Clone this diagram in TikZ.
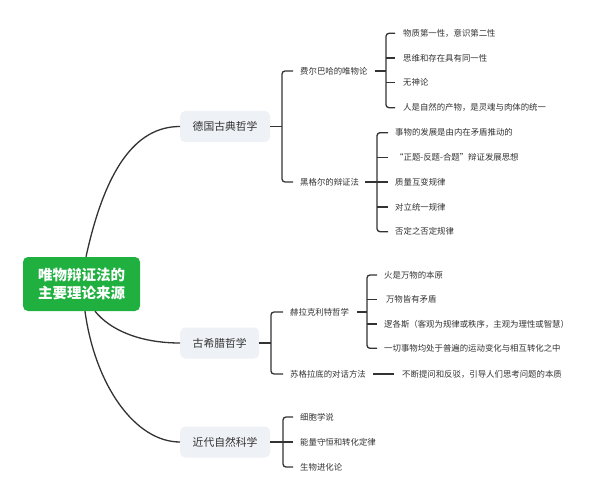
\documentclass[tikz,border=0pt]{standalone}
\usepackage{fontspec}
\setmainfont{Noto Sans CJK SC}
\usetikzlibrary{calc}
\definecolor{rootgreen}{RGB}{31,176,64}
\definecolor{lvbox}{RGB}{238,241,245}
\definecolor{ink}{RGB}{51,51,51}
\begin{document}
\begin{tikzpicture}[x=1pt,y=-1pt,
  conn/.style={draw=ink,line width=1.3pt},
  rootbox/.style={fill=rootgreen,text=white,rounded corners=5pt,minimum width=117pt,minimum height=54pt,inner sep=0pt,align=center,font=\fontsize{14.5}{18.3}\selectfont\bfseries},
  lvone/.style={fill=lvbox,text=ink,rounded corners=5pt,minimum height=31pt,inner xsep=12.5pt,inner ysep=0pt,anchor=west,font=\fontsize{10.8}{12}\selectfont},
  item/.style={text=ink,inner sep=0pt,anchor=west,font=\fontsize{8.4}{10}\selectfont}
]
\useasboundingbox (0,0) rectangle (599,500);
\fill[white] (0,0) rectangle (599,500);

% root
\node[rootbox] (root) at (81.5,284) {唯物辩证法的\\主要理论来源};

% level 1
\node[lvone] (de) at (180,126.5) {德国古典哲学};
\node[lvone] (gr) at (180,343) {古希腊哲学};
\node[lvone] (sc) at (180,442) {近代自然科学};

\draw[conn] ([xshift=4.5pt]root.north) .. controls (105,170) and (135,126.5) .. (de.west);
\draw[conn] ([xshift=13.5pt]root.south) .. controls (110,330) and (140,343) .. (gr.west);
\draw[conn] ([xshift=3.5pt]root.south) .. controls (95,385) and (135,442) .. (sc.west);

% level 2 - German
\node[item] (fe) at (300,71) {费尔巴哈的唯物论};
\node[item] (he) at (300,182) {黑格尔的辩证法};
\coordinate (deb) at (282,126.5);
\draw[conn] (de.east) -- (deb);
\draw[conn,rounded corners=3pt] ([xshift=-7pt]fe.west) -- (deb|-fe.west) -- (deb|-he.west) -- ([xshift=-7pt]he.west);

% Feuerbach items
\node[item] (f1) at (403,33.3) {物质第一性，意识第二性};
\node[item] (f2) at (403,58) {思维和存在具有同一性};
\node[item] (f3) at (403,82.7) {无神论};
\node[item] (f4) at (403,107.7) {人是自然的产物，是灵魂与肉体的统一};
\coordinate (feb) at (386,71);
\draw[conn] ([xshift=7pt]fe.east) -- (feb);
\draw[conn,rounded corners=3pt] ([xshift=-8pt]f1.west) -- (feb|-f1.west) -- (feb|-f4.west) -- ([xshift=-8pt]f4.west);
\draw[conn] (feb|-f2.west) -- ([xshift=-8pt]f2.west);
\draw[conn] (feb|-f3.west) -- ([xshift=-8pt]f3.west);

% Hegel items
\node[item] (h1) at (395,132.7) {事物的发展是由内在矛盾推动的};
\node[item] (h2) at (395,157.5) {“正题-反题-合题”辩证发展思想};
\node[item] (h3) at (395,182) {质量互变规律};
\node[item] (h4) at (395,207) {对立统一规律};
\node[item] (h5) at (395,231.7) {否定之否定规律};
\coordinate (heb) at (377,182);
\draw[conn] ([xshift=6pt]he.east) -- (h3.west -| heb) -- ([xshift=-7pt]h3.west);
\draw[conn,rounded corners=3pt] ([xshift=-7pt]h1.west) -- (heb|-h1.west) -- (heb|-h5.west) -- ([xshift=-7pt]h5.west);
\draw[conn] (heb|-h2.west) -- ([xshift=-7pt]h2.west);
\draw[conn] (heb|-h4.west) -- ([xshift=-7pt]h4.west);

% level 2 - Greek
\node[item] (hr) at (290,312) {赫拉克利特哲学};
\node[item] (so) at (290,374) {苏格拉底的对话方法};
\coordinate (grb) at (271,343);
\draw[conn] (gr.east) -- (grb);
\draw[conn,rounded corners=3pt] ([xshift=-7pt]hr.west) -- (grb|-hr.west) -- (grb|-so.west) -- ([xshift=-7pt]so.west);

% Heraclitus items
\node[item] (r1) at (384,275) {火是万物的本原};
\node[item] (r2) at (384,299.5) {\ 万物皆有矛盾};
\node[item] (r3) at (384,324) {逻各斯（客观为规律或秩序，主观为理性或智慧）};
\node[item] (r4) at (384,348.3) {一切事物均处于普遍的运动变化与相互转化之中};
\coordinate (hrb) at (367,312);
\draw[conn] ([xshift=8pt]hr.east) -- (hrb);
\draw[conn,rounded corners=3pt] ([xshift=-7pt]r1.west) -- (hrb|-r1.west) -- (hrb|-r4.west) -- ([xshift=-7pt]r4.west);
\draw[conn] (hrb|-r2.west) -- ([xshift=-7pt]r2.west);
\draw[conn] (hrb|-r3.west) -- ([xshift=-7pt]r3.west);

% Socrates item
\node[item] (s1) at (402,374) {不断提问和反驳，引导人们思考问题的本质};
\draw[conn] ([xshift=7pt]so.east) -- ([xshift=-8pt]s1.west);

% Science items
\node[item] (c1) at (300,417) {细胞学说};
\node[item] (c2) at (300,442) {能量守恒和转化定律};
\node[item] (c3) at (300,467) {生物进化论};
\coordinate (scb) at (283,442);
\draw[conn] (sc.east) -- (c2.west -| scb) -- ([xshift=-7pt]c2.west);
\draw[conn,rounded corners=3pt] ([xshift=-7pt]c1.west) -- (scb|-c1.west) -- (scb|-c3.west) -- ([xshift=-7pt]c3.west);
\end{tikzpicture}
\end{document}
